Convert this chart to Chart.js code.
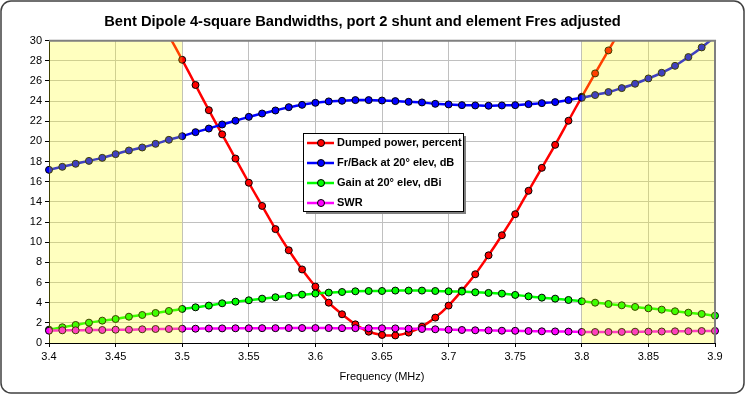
<!DOCTYPE html>
<html>
<head>
<meta charset="utf-8">
<script src="https://cdn.jsdelivr.net/npm/chart.js@4"></script>
<style>
  html, body { margin: 0; padding: 0; background: #fff; }
</style>
</head>
<body>
<canvas id="myChart" width="745" height="394"></canvas>
<script>
// frequencies (MHz)
var freqs = [3.40, 3.41, 3.42, 3.43, 3.44, 3.45, 3.46, 3.47, 3.48, 3.49,
  3.50, 3.51, 3.52, 3.53, 3.54, 3.55, 3.56, 3.57, 3.58, 3.59,
  3.60, 3.61, 3.62, 3.63, 3.64, 3.65, 3.66, 3.67, 3.68, 3.69,
  3.70, 3.71, 3.72, 3.73, 3.74, 3.75, 3.76, 3.77, 3.78, 3.79,
  3.80, 3.81, 3.82, 3.83, 3.84, 3.85, 3.86, 3.87, 3.88, 3.89, 3.90];

// series values
var dumpedPower = [null, null, null, null, null, null, null, null, null, 30.5,
  28.1, 25.6, 23.1, 20.7, 18.3, 15.9, 13.6, 11.3, 9.2, 7.3,
  5.6, 4.0, 2.85, 1.85, 1.12, 0.8, 0.75, 1.03, 1.62, 2.52,
  3.71, 5.2, 6.82, 8.7, 10.69, 12.78, 15.1, 17.38, 19.66, 22.05,
  24.43, 26.75, 29.03, 31.3, null, null, null, null, null, null, null];
var frontBack = [17.18, 17.48, 17.78, 18.07, 18.37, 18.74, 19.1, 19.4, 19.76, 20.16,
  20.52, 20.92, 21.28, 21.68, 22.05, 22.44, 22.77, 23.07, 23.4, 23.63,
  23.83, 23.97, 24.03, 24.1, 24.1, 24.06, 24.0, 23.93, 23.87, 23.73,
  23.67, 23.6, 23.57, 23.54, 23.57, 23.6, 23.7, 23.8, 23.9, 24.1,
  24.33, 24.6, 24.9, 25.29, 25.72, 26.25, 26.81, 27.5, 28.37, 29.33, 30.4];
var gain = [1.32, 1.56, 1.79, 2.02, 2.22, 2.38, 2.61, 2.78, 2.98, 3.18,
  3.38, 3.54, 3.71, 3.94, 4.1, 4.24, 4.4, 4.54, 4.67, 4.8,
  4.9, 5.0, 5.06, 5.13, 5.16, 5.16, 5.2, 5.2, 5.2, 5.16,
  5.13, 5.1, 5.03, 4.97, 4.9, 4.77, 4.63, 4.5, 4.4, 4.27,
  4.14, 4.0, 3.87, 3.74, 3.58, 3.44, 3.31, 3.15, 3.01, 2.88, 2.71];
var swr = [1.22, 1.26, 1.26, 1.29, 1.29, 1.32, 1.32, 1.36, 1.39, 1.39,
  1.42, 1.42, 1.44, 1.45, 1.46, 1.46, 1.47, 1.47, 1.48, 1.48,
  1.48, 1.48, 1.47, 1.47, 1.46, 1.46, 1.45, 1.42, 1.39, 1.36,
  1.32, 1.29, 1.26, 1.25, 1.22, 1.21, 1.19, 1.16, 1.15, 1.13,
  1.1, 1.09, 1.09, 1.1, 1.12, 1.13, 1.14, 1.16, 1.17, 1.19, 1.2];

// shaded (out of band) frequency ranges
var bands = [[3.40, 3.50], [3.80, 3.90]];

var names = ["Dumped power, percent", "Fr/Back at 20\u00b0 elev, dB", "Gain at 20\u00b0 elev, dBi", "SWR"];
var colors = ["#ff0000", "#0000ff", "#00ff00", "#ff00ff"];
var seriesList = [dumpedPower, frontBack, gain, swr];

Chart.defaults.font.family = '"Liberation Sans", Arial, sans-serif';
Chart.defaults.color = '#000';

// outer rounded frame
var frame = {
  id: 'frame',
  beforeDraw: function(chart) {
    var ctx = chart.ctx;
    ctx.save();
    ctx.fillStyle = '#fff';
    ctx.fillRect(0, 0, chart.width, chart.height);
    ctx.beginPath();
    ctx.roundRect(1, 1, chart.width - 2, chart.height - 2, 10);
    ctx.lineWidth = 1.5;
    ctx.strokeStyle = '#404040';
    ctx.stroke();
    ctx.restore();
  }
};

// yellow band overlay + plot border
var bandOverlay = {
  id: 'bandOverlay',
  afterDatasetsDraw: function(chart) {
    var ctx = chart.ctx, a = chart.chartArea, xs = chart.scales.x;
    ctx.save();
    ctx.fillStyle = 'rgba(255,255,0,0.25)';
    bands.forEach(function(b) {
      var x0 = xs.getPixelForValue(b[0]), x1 = xs.getPixelForValue(b[1]);
      ctx.fillRect(x0, a.top, x1 - x0, a.bottom - a.top);
    });
    ctx.strokeStyle = '#808080';
    ctx.lineWidth = 2;
    ctx.beginPath();
    ctx.moveTo(a.left, a.top);
    ctx.lineTo(a.right, a.top);
    ctx.lineTo(a.right, a.bottom);
    ctx.stroke();
    ctx.restore();
  }
};

// legend box inside plot
var legendBox = {
  id: 'legendBox',
  afterDraw: function(chart) {
    var ctx = chart.ctx;
    var x = 303, y = 133, w = 160, h = 78;
    ctx.save();
    ctx.fillStyle = '#808080';
    ctx.fillRect(x + 3, y + 3, w, h);
    ctx.fillStyle = '#fff';
    ctx.fillRect(x, y, w, h);
    ctx.strokeStyle = '#000';
    ctx.lineWidth = 1;
    ctx.strokeRect(x + 0.5, y + 0.5, w, h);
    ctx.font = 'bold 11px "Liberation Sans", Arial, sans-serif';
    ctx.textBaseline = 'middle';
    chart.data.datasets.forEach(function(ds, i) {
      var cy = y + 10 + 20 * i;
      ctx.strokeStyle = ds.borderColor;
      ctx.lineWidth = 2.5;
      ctx.beginPath();
      ctx.moveTo(x + 4, cy);
      ctx.lineTo(x + 31, cy);
      ctx.stroke();
      ctx.beginPath();
      ctx.arc(x + 18, cy, 3.5, 0, Math.PI * 2);
      ctx.fillStyle = ds.borderColor;
      ctx.fill();
      ctx.lineWidth = 1;
      ctx.strokeStyle = '#000';
      ctx.stroke();
      ctx.fillStyle = '#000';
      ctx.fillText(ds.label, x + 34, cy);
    });
    ctx.restore();
  }
};

var datasets = seriesList.map(function(vals, i) {
  return {
    label: names[i],
    data: freqs.map(function(f, j) { return { x: f, y: vals[j] }; }),
    borderColor: colors[i],
    backgroundColor: colors[i],
    pointBorderColor: '#000',
    pointBorderWidth: 1,
    pointRadius: 3.5,
    borderWidth: 2.5,
    tension: 0.3,
    order: seriesList.length - i,
    clip: { left: 6, right: 6, top: 0, bottom: 6 }
  };
});

var ctx = document.getElementById('myChart');
var chart = new Chart(ctx, {
  type: 'line',
  data: { datasets: datasets },
  plugins: [frame, bandOverlay, legendBox],
  options: {
    responsive: false,
    animation: false,
    layout: { padding: { left: 10, right: 30, top: 0, bottom: 0 } },
    plugins: {
      legend: { display: false },
      tooltip: { enabled: false },
      title: {
        display: true,
        text: 'Bent Dipole 4-square Bandwidths, port 2 shunt and element Fres adjusted',
        font: { size: 14.7, weight: 'bold' },
        padding: { top: 13, bottom: 10 },
        color: '#000'
      }
    },
    scales: {
      x: {
        type: 'linear',
        min: 3.4,
        max: 3.9,
        ticks: {
          stepSize: 0.05,
          font: { size: 11 },
          padding: 3,
          maxRotation: 0,
          callback: function(v) { return String(+v.toFixed(2)); }
        },
        grid: { color: '#c0c0c0', tickColor: '#000', tickLength: 4 },
        border: { color: '#000', width: 1 },
        title: { display: true, text: 'Frequency (MHz)', font: { size: 11 }, padding: { top: 8, bottom: 10 } },
        afterFit: function(scale) { scale.height = 51; }
      },
      y: {
        min: 0,
        max: 30,
        ticks: { stepSize: 2, font: { size: 11 }, padding: 3 },
        grid: { color: '#c0c0c0', tickColor: '#000', tickLength: 4 },
        border: { color: '#000', width: 1 },
        afterFit: function(scale) { scale.width = 39; }
      }
    }
  }
});
</script>
</body>
</html>
